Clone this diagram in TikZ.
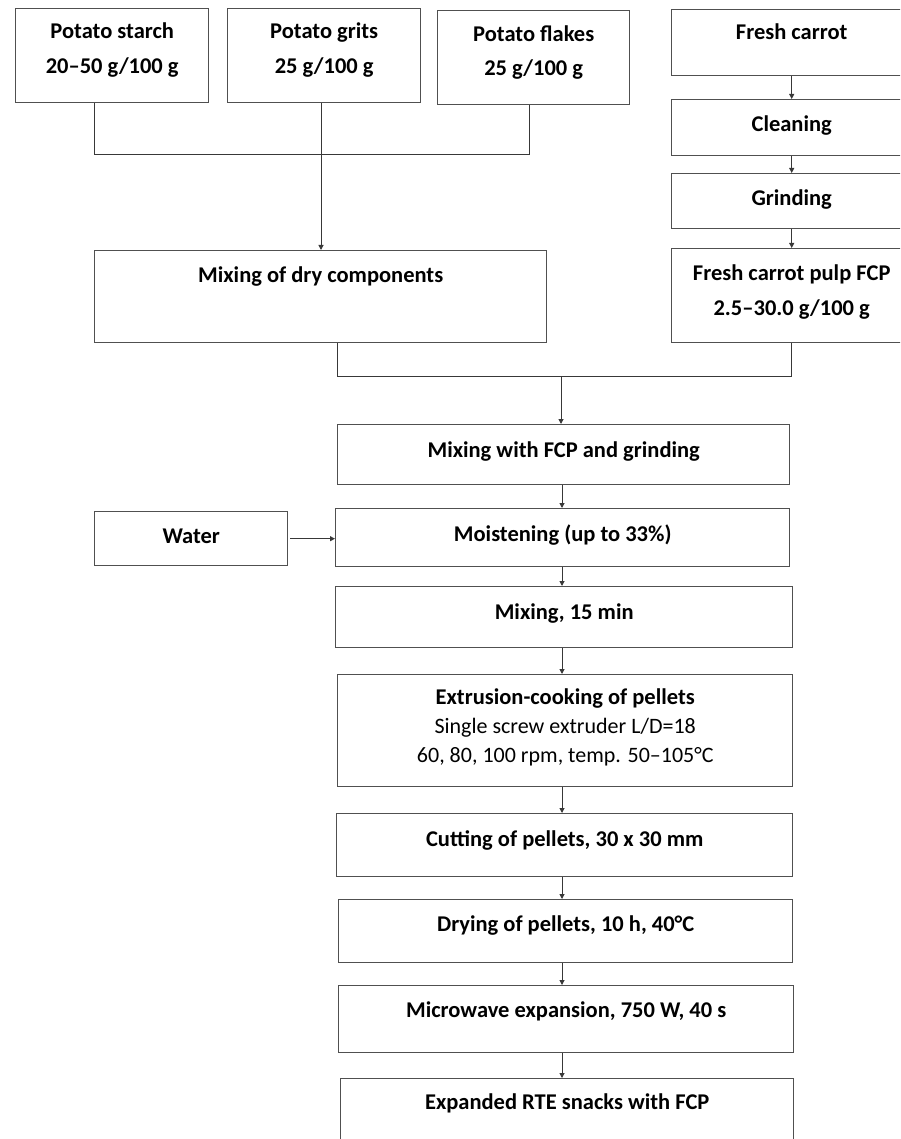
\documentclass[tikz,border=0pt]{standalone}
\usepackage{fontspec}
\setmainfont{Carlito}
\usetikzlibrary{arrows.meta,calc}
\definecolor{boxgray}{HTML}{505050}
\definecolor{linegray}{HTML}{383838}
\tikzset{
  box/.style={draw=boxgray, line width=1.4pt, inner sep=0pt, anchor=north west},
  lbl/.style={font=\bfseries\fontsize{22.5}{27}\selectfont, anchor=base, inner sep=0pt},
  lblr/.style={font=\fontsize{22}{27}\selectfont, anchor=base, inner sep=0pt},
  conn/.style={draw=linegray, line width=1pt},
  arr/.style={conn, -{Triangle[length=5pt,width=5pt]}},
}
\begin{document}
\begin{tikzpicture}[x=1pt,y=-1pt]
\useasboundingbox (0,0) rectangle (900,1139);
\clip (0,0) rectangle (900,1139);
% top boxes
\node[box, minimum width=193pt, minimum height=94pt] (starch) at (15,8) {};
\node[lbl] (starchA) at ([yshift=-31pt]starch.north) {Potato starch};
\node[lbl] (starchB) at ([yshift=-66pt]starch.north) {20–50 g/100 g};
\node[box, minimum width=193pt, minimum height=94pt] (grits) at (227,8) {};
\node[lbl] (gritsA) at ([yshift=-31pt]grits.north) {Potato grits};
\node[lbl] (gritsB) at ([yshift=-66pt]grits.north) {25 g/100 g};
\node[box, minimum width=192pt, minimum height=94pt] (flakes) at (437,10) {};
\node[lbl] (flakesA) at ([yshift=-32pt]flakes.north) {Potato flakes};
\node[lbl] (flakesB) at ([yshift=-66pt]flakes.north) {25 g/100 g};
% carrot column
\node[box, minimum width=240pt, minimum height=66pt] (carrot) at (671,9) {};
\node[lbl] (carrotA) at ([yshift=-31pt]carrot.north) {Fresh carrot};
\node[box, minimum width=240pt, minimum height=56pt] (clean) at (671,99) {};
\node[lbl] (cleanA) at ([yshift=-33pt]clean.north) {Cleaning};
\node[box, minimum width=240pt, minimum height=55pt] (grind) at (671,173) {};
\node[lbl] (grindA) at ([yshift=-33pt]grind.north) {Grinding};
\node[box, minimum width=240pt, minimum height=94pt] (fcp) at (671,248) {};
\node[lbl] (fcpA) at ([yshift=-32pt]fcp.north) {Fresh carrot pulp FCP};
\node[lbl] (fcpB) at ([yshift=-67pt]fcp.north) {2.5–30.0 g/100 g};
% dry mixing
\node[box, minimum width=452pt, minimum height=92pt] (drymix) at (94,250) {};
\node[lbl] (drymixA) at ([yshift=-33pt]drymix.north) {Mixing of dry components};
% main column
\node[box, minimum width=452pt, minimum height=60pt] (mixfcp) at (337,424) {};
\node[lbl] (mixfcpA) at ([yshift=-33pt]mixfcp.north) {Mixing with FCP and grinding};
\node[box, minimum width=193pt, minimum height=54pt] (water) at (94,511) {};
\node[lbl] (waterA) at ([yshift=-32pt]water.north) {Water};
\node[box, minimum width=454pt, minimum height=58pt] (moist) at (335,508) {};
\node[lbl] (moistA) at ([yshift=-33pt]moist.north) {Moistening (up to 33\%)};
\node[box, minimum width=457pt, minimum height=61pt] (mix15) at (335,586) {};
\node[lbl] (mix15A) at ([yshift=-33pt]mix15.north) {Mixing, 15 min};
\node[box, minimum width=455pt, minimum height=112pt] (extr) at (337,674) {};
\node[lbl] (extrA) at ([yshift=-30pt]extr.north) {Extrusion-cooking of pellets};
\node[lblr] (extrB) at ([yshift=-59pt]extr.north) {Single screw extruder L/D=18};
\node[lblr] (extrC) at ([yshift=-88pt]extr.north) {60, 80, 100 rpm, temp. 50–105°C};
\node[box, minimum width=456pt, minimum height=63pt] (cut) at (336,813) {};
\node[lbl] (cutA) at ([yshift=-33pt]cut.north) {Cutting of pellets, 30 x 30 mm};
\node[box, minimum width=454pt, minimum height=63pt] (dry) at (338,899) {};
\node[lbl] (dryA) at ([yshift=-32pt]dry.north) {Drying of pellets, 10 h, 40°C};
\node[box, minimum width=455pt, minimum height=67pt] (micro) at (338,985) {};
\node[lbl] (microA) at ([yshift=-32pt]micro.north) {Microwave expansion, 750 W, 40 s};
\node[box, minimum width=453pt, minimum height=90pt] (final) at (340,1078) {};
\node[lbl] (finalA) at ([yshift=-31pt]final.north) {Expanded RTE snacks with FCP};
% connectors: dry components bus
\coordinate (bus1) at (321,155);
\coordinate (flx) at (529,155);
\draw[conn] (flx |- flakes.south) -- (flx) -- (drymix.west |- flx) -- (drymix.west |- starch.south);
\draw[conn] (bus1 |- grits.south) -- (bus1);
\draw[arr] (bus1) -- (bus1 |- drymix.north);
% carrot column arrows
\draw[arr] (carrot.south) -- (clean.north);
\draw[arr] (clean.south) -- (grind.north);
\draw[arr] (grind.south) -- (fcp.north);
% second bus
\coordinate (bus2) at (561,376);
\draw[conn] (mixfcp.west |- drymix.south) -- (mixfcp.west |- bus2) -- (fcp.south |- bus2) -- (fcp.south);
\draw[arr] (bus2) -- (bus2 |- mixfcp.north);
% main spine
\coordinate (spine) at (562,0);
\draw[arr] (spine |- mixfcp.south) -- (spine |- moist.north);
\draw[arr] (spine |- moist.south) -- (spine |- mix15.north);
\draw[arr] (spine |- mix15.south) -- (spine |- extr.north);
\draw[arr] (spine |- extr.south) -- (spine |- cut.north);
\draw[arr] (spine |- cut.south) -- (spine |- dry.north);
\draw[arr] (spine |- dry.south) -- (spine |- micro.north);
\draw[arr] (spine |- micro.south) -- (spine |- final.north);
% water
\draw[arr] ([xshift=2pt]water.east) -- (moist.west |- water.east);
\end{tikzpicture}
\end{document}
